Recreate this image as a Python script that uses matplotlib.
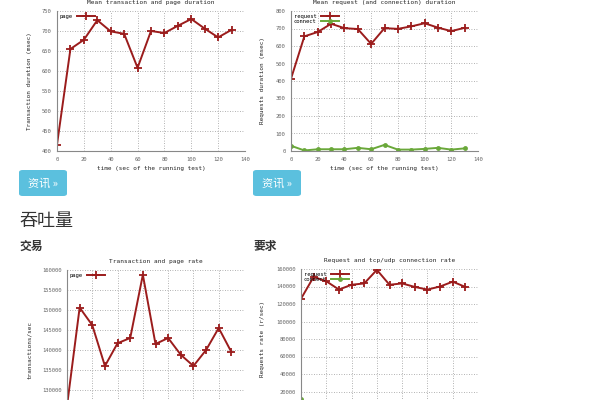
import matplotlib
matplotlib.use("Agg")
import matplotlib.pyplot as plt
from matplotlib.patches import FancyBboxPatch

# data
t = [0, 10, 20, 30, 40, 50, 60, 70, 80, 90, 100, 110, 120, 130]
page_dur = [416, 655, 678, 727, 699, 693, 608, 700, 695, 713, 730, 706, 684, 703]
request_dur = [413, 655, 680, 727, 702, 697, 612, 702, 698, 712, 730, 705, 685, 704]
connect_dur = [30, 3, 10, 10, 10, 18, 10, 35, 8, 8, 12, 18, 8, 15]
page_rate = [126000, 150600, 146200, 136000, 141700, 143000, 158800,
             141500, 143000, 138800, 136000, 140000, 145500, 139500]
request_rate = [126000, 151000, 146000, 136500, 142000, 143500, 159000,
                142000, 143500, 139500, 136500, 140000, 145500, 139500]
connect_rate = [11000, 500, 400, 300, 400, 400, 500, 400, 300, 300, 400, 300, 400, 300]

RED = "#9b1c1c"
GREEN = "#6aa83a"
BTN = "#5bc0de"
MONO = "DejaVu Sans Mono"
CJK = ["Noto Sans CJK SC", "DejaVu Sans"]

W, H = 600, 400
fig = plt.figure(figsize=(6, 4), dpi=100)


def box(x0, y0, x1, y1):
    # pixel box (top-left origin) -> figure fraction rect
    return [x0 / W, 1 - y1 / H, (x1 - x0) / W, (y1 - y0) / H]


def fpx(x, y):
    return x / W, 1 - y / H


def style(ax, xlim, ylim, yticks, title, ylabel, ylab_x, xlabel=None):
    ax.set_xlim(*xlim)
    ax.set_ylim(*ylim)
    ax.set_xticks(range(0, 141, 20))
    ax.set_yticks(yticks)
    ax.grid(True, linestyle=(0, (1, 2)), color="#999999", linewidth=0.6)
    for s in ["top", "right"]:
        ax.spines[s].set_visible(False)
    for s in ["left", "bottom"]:
        ax.spines[s].set_color("#888888")
        ax.spines[s].set_linewidth(0.8)
    ax.tick_params(length=0, labelsize=4, labelcolor="#666666", pad=4)
    for lab in ax.get_xticklabels() + ax.get_yticklabels():
        lab.set_family(MONO)
    ax.set_title(title, fontsize=4.4, family=MONO, color="#222222", pad=5)
    ax.set_ylabel(ylabel, fontsize=4.3, family=MONO, color="#222222")
    bb = ax.get_position()
    ax.yaxis.set_label_coords(ylab_x / W, bb.y0 + bb.height / 2, transform=fig.transFigure)
    if xlabel:
        ax.set_xlabel(xlabel, fontsize=4.3, family=MONO, color="#222222", labelpad=3)
    else:
        # the page cuts these charts off above their x axis
        ax.tick_params(labelbottom=False)
    ax.legend(loc="upper left", markerfirst=False, frameon=False,
              prop={"family": MONO, "size": 4}, handlelength=3.2,
              borderaxespad=0.3, labelspacing=0.1, borderpad=0.2)


def red(ax, y, label):
    ax.plot(t, y, color=RED, lw=1.4, marker="+", ms=5.5, mew=1.3, label=label)


def green(ax, y, label):
    ax.plot(t, y, color=GREEN, lw=1.4, marker="o", ms=3.5, mew=0, label=label)


# mean transaction and page duration
ax1 = fig.add_axes(box(57, 11, 245, 151))
red(ax1, page_dur, "page")
style(ax1, (0, 140), (400, 750), range(400, 751, 50),
      "Mean transaction and page duration", "Transaction duration (msec)", 32,
      "time (sec of the running test)")

# mean request and connection duration
ax2 = fig.add_axes(box(291, 11, 478, 151))
red(ax2, request_dur, "request")
green(ax2, connect_dur, "connect")
style(ax2, (0, 140), (0, 800), range(0, 801, 100),
      "Mean request (and connection) duration", "Requests duration (msec)", 265,
      "time (sec of the running test)")

# transaction and page rate (cut off by the page)
ax3 = fig.add_axes(box(67, 270, 244, 430))
red(ax3, page_rate, "page")
style(ax3, (0, 140), (120000, 160000), range(130000, 160001, 5000),
      "Transaction and page rate", "transactions/sec", 32)

# request and connection rate
ax4 = fig.add_axes(box(301, 269, 478, 409))
red(ax4, request_rate, "request")
green(ax4, connect_rate, "connect")
style(ax4, (0, 140), (0, 160000), range(20000, 160001, 20000),
      "Request and tcp/udp connection rate", "Requests rate (r/sec)", 265)

# page elements around the charts
for x0 in [19, 253]:
    x, y = fpx(x0, 196)
    fig.patches.append(FancyBboxPatch((x, y), 48 / W, 26 / H,
                                      boxstyle="round,pad=0,rounding_size=0.006",
                                      transform=fig.transFigure, facecolor=BTN,
                                      edgecolor="none"))
    fig.text(*fpx(x0 + 24, 183), "资讯 »", ha="center", va="center",
             color="white", fontsize=8, family=CJK)

fig.text(*fpx(19, 221), "吞吐量", ha="left", va="center", color="#333333",
         fontsize=13, family=CJK)
fig.text(*fpx(19, 246), "交易", ha="left", va="center", color="#333333",
         fontsize=8.5, fontweight="bold", family=CJK)
fig.text(*fpx(253, 246), "要求", ha="left", va="center", color="#333333",
         fontsize=8.5, fontweight="bold", family=CJK)

fig.savefig("out.png", dpi=100)
